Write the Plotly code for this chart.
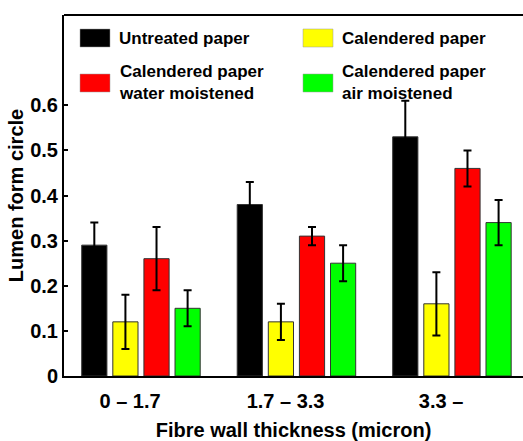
import plotly.graph_objects as go

categories = ["0 – 1.7", "1.7 – 3.3", "3.3 –"]
series_names = ["Untreated paper", "Calendered paper",
                "Calendered paper<br>water moistened", "Calendered paper<br>air moistened"]
series_colors = ["#000000", "#ffff00", "#ff0000", "#00ff00"]
values = [
    [0.29, 0.38, 0.53],
    [0.12, 0.12, 0.16],
    [0.26, 0.31, 0.46],
    [0.15, 0.25, 0.34],
]
errors = [
    [0.05, 0.05, 0.08],
    [0.06, 0.04, 0.07],
    [0.07, 0.02, 0.04],
    [0.04, 0.04, 0.05],
]
empty_slot = [0, 0, 0]
y_ticks = [0, 0.1, 0.2, 0.3, 0.4, 0.5, 0.6]

FONT = "Liberation Sans"
W, H = 523, 441
ML, MR, MT, MB = 64, 0, 15, 65

xs = list(range(len(categories)))
fig = go.Figure()
for name, color, vals, errs in zip(series_names, series_colors, values, errors):
    fig.add_trace(go.Bar(
        x=xs, y=vals, name=name, showlegend=False,
        marker=dict(color=color, line=dict(color="#333333", width=1)),
        error_y=dict(type="data", array=errs, color="#000000", thickness=2, width=4),
    ))
fig.add_trace(go.Bar(x=xs, y=empty_slot, showlegend=False, hoverinfo="skip",
                     marker=dict(color="rgba(0,0,0,0)", line=dict(width=0))))

# manual legend (two columns)
pw, ph = W - ML - MR, H - MT - MB
def px(xp):
    return (xp - ML) / pw
def py(yp):
    return 1 - (yp - MT) / ph
leg_pos = [(80, 38), (303, 38), (80, 83), (303, 83)]
for (lx, ly), name, color in zip(leg_pos, series_names, series_colors):
    fig.add_shape(type="rect", xref="paper", yref="paper",
                  x0=px(lx), x1=px(lx + 30), y0=py(ly + 9), y1=py(ly - 9),
                  fillcolor=color, line=dict(color="#999999", width=0.5))
    fig.add_annotation(xref="paper", yref="paper", x=px(lx + 37), y=py(ly),
                       text=name, showarrow=False, xanchor="left", yanchor="middle",
                       align="left",
                       font=dict(family=FONT, size=17, color="black", weight="bold"))
# top frame line
fig.add_shape(type="line", xref="paper", yref="paper", x0=0, x1=1, y0=1, y1=1,
              line=dict(color="black", width=2))

fig.update_layout(
    template="none",
    width=W, height=H,
    margin=dict(l=ML, r=MR, t=MT, b=MB),
    paper_bgcolor="white", plot_bgcolor="white",
    barmode="group", bargap=0.0, bargroupgap=0.19,
    font=dict(family=FONT, color="black", weight="bold"),
    xaxis=dict(
        range=[-0.595, 2.357],
        tickvals=[x - 0.17 for x in xs], ticktext=categories,
        tickfont=dict(size=20, weight="bold"),
        showgrid=False, zeroline=False, showline=True, linecolor="black", linewidth=2,
        mirror=False, ticks="", ticklabelstandoff=6,
        title=dict(text="Fibre wall thickness (micron)", font=dict(size=20, weight="bold"), standoff=13),
    ),
    yaxis=dict(
        range=[0, 0.8], tickvals=y_ticks, ticktext=[f"{v:g}" for v in y_ticks],
        tickfont=dict(size=20, weight="bold"),
        showgrid=False, zeroline=False, showline=True, linecolor="black", linewidth=2,
        ticks="inside", ticklen=4, tickwidth=1.5, tickcolor="black",
        title=dict(text="Lumen form circle", font=dict(size=20, weight="bold"), standoff=1),
    ),
)
fig.write_html("out.html")
